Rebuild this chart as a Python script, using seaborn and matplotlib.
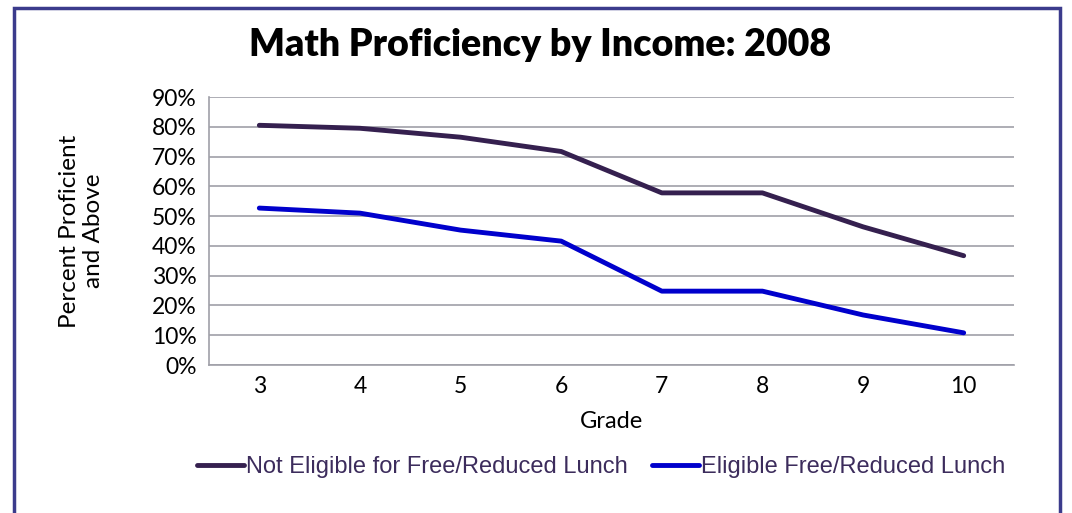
import pandas as pd
import seaborn as sns
import matplotlib.pyplot as plt
from matplotlib.patches import Rectangle
from matplotlib.ticker import PercentFormatter, FixedLocator

grades = ['3', '4', '5', '6', '7', '8', '9', '10']
not_eligible = [0.805, 0.795, 0.765, 0.717, 0.578, 0.578, 0.464, 0.367]
eligible = [0.527, 0.510, 0.453, 0.416, 0.248, 0.248, 0.168, 0.108]
series = ['Not Eligible for Free/Reduced Lunch', 'Eligible Free/Reduced Lunch']
colors = ['#35204f', '#0000cc']

data = pd.DataFrame({
    'Grade': grades * 2,
    'Value': not_eligible + eligible,
    'Group': [series[0]] * len(grades) + [series[1]] * len(grades),
})

sns.set_style('white')
plt.rcParams['font.family'] = ['Lato', 'DejaVu Sans']

fig = plt.figure(figsize=(10.72, 5.13), dpi=100)
ax = fig.add_axes([209 / 1072, 1 - 365 / 513, (1014 - 209) / 1072, (365 - 97) / 513])

sns.lineplot(data=data, x='Grade', y='Value', hue='Group', palette=colors,
             linewidth=3.5, ax=ax, sort=False)

ax.set_xlim(-0.5, 7.5)
ax.set_ylim(0, 0.9)
ax.set_yticks([i / 10 for i in range(10)])
ax.yaxis.set_major_formatter(PercentFormatter(1.0, decimals=0))
ax.yaxis.grid(True, color='#a0a0a8', lw=1.2)
ax.set_axisbelow(True)
for s in ['top', 'right']:
    ax.spines[s].set_visible(False)
for s in ['left', 'bottom']:
    ax.spines[s].set_color('#a0a0a8')
    ax.spines[s].set_linewidth(1.2)

ax.tick_params(axis='x', which='major', length=0, labelsize=16.5, pad=8, labelcolor='black')
ax.xaxis.set_minor_locator(FixedLocator([i - 0.5 for i in range(9)]))
ax.tick_params(axis='x', which='minor', length=8, color='#a0a0a8', width=1.2, direction='out')
ax.tick_params(axis='y', length=7, color='#a0a0a8', width=1.2, labelsize=16.5, pad=2,
               labelcolor='black')

ax.set_xlabel('Grade', fontsize=17, labelpad=10, color='black')
ax.set_ylabel('Percent Proficient\nand Above', fontsize=17.5, labelpad=34, color='black')

fig.text(540 / 1072, 1 - 45 / 513, 'Math Proficiency by Income: 2008',
         ha='center', va='center', fontsize=27, fontweight='heavy', color='black')

handles, labels = ax.get_legend_handles_labels()
ax.legend(handles, labels, loc='center', bbox_to_anchor=(601 / 1072, 1 - 467 / 513),
          bbox_transform=fig.transFigure, ncol=2, frameon=False, handlelength=2.0,
          handletextpad=0.1, columnspacing=1.0,
          prop={'family': 'Liberation Sans', 'size': 17}, labelcolor='#3c2c5c')

fig.patches.append(Rectangle((14 / 1072, -0.2), (1060 - 14) / 1072, 1.2 - 8 / 513,
                             transform=fig.transFigure, fill=False,
                             edgecolor='#3b3b8c', lw=2.5, clip_on=False))

fig.savefig('out.png', dpi=100)
